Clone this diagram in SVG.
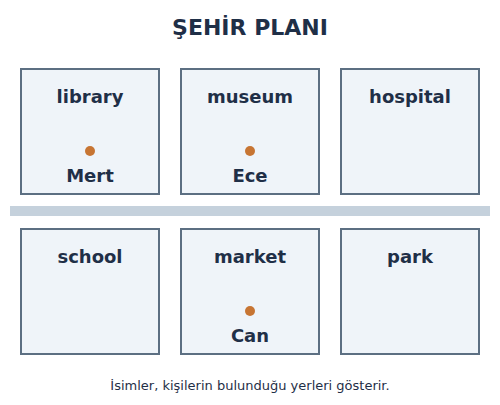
<svg xmlns="http://www.w3.org/2000/svg" width="500" height="405" viewBox="0 0 500 405">
<style>
.box{fill:#eff4f9;stroke:#5c6f82;stroke-width:2}
.lbl{font-family:"DejaVu Sans",sans-serif;font-weight:bold;font-size:18px;fill:#1f2f47;text-anchor:middle}
.dot{fill:#c77533}
.title{font-family:"DejaVu Sans",sans-serif;font-weight:bold;font-size:22px;fill:#1f2f47;text-anchor:middle}
.cap{font-family:"DejaVu Sans",sans-serif;font-size:13px;fill:#1f2f47;text-anchor:middle}
</style>
<rect width="500" height="405" fill="#ffffff"/>
<text class="title" x="250" y="35">ŞEHİR PLANI</text>
<rect x="10" y="206" width="480" height="10" fill="#c5d1dc"/>
<g id="library"><rect class="box" x="21" y="69" width="138" height="125"/><text class="lbl" x="90" y="103">library</text><circle class="dot" cx="90" cy="151" r="5"/><text class="lbl" x="90" y="182">Mert</text></g>
<g id="museum"><rect class="box" x="181" y="69" width="138" height="125"/><text class="lbl" x="250" y="103">museum</text><circle class="dot" cx="250" cy="151" r="5"/><text class="lbl" x="250" y="182">Ece</text></g>
<g id="hospital"><rect class="box" x="341" y="69" width="138" height="125"/><text class="lbl" x="410" y="103">hospital</text></g>
<g id="school"><rect class="box" x="21" y="229" width="138" height="125"/><text class="lbl" x="90" y="263">school</text></g>
<g id="market"><rect class="box" x="181" y="229" width="138" height="125"/><text class="lbl" x="250" y="263">market</text><circle class="dot" cx="250" cy="311" r="5"/><text class="lbl" x="250" y="342">Can</text></g>
<g id="park"><rect class="box" x="341" y="229" width="138" height="125"/><text class="lbl" x="410" y="263">park</text></g>
<g id="connectors"></g>
<text class="cap" x="250" y="390">İsimler, kişilerin bulunduğu yerleri gösterir.</text>
</svg>
